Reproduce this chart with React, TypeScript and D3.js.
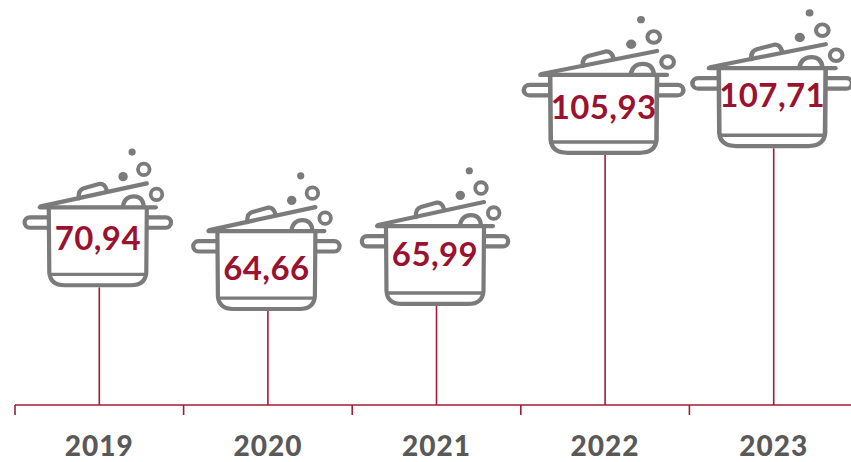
import React from "react";
import * as d3 from "d3";

const years = ["2019", "2020", "2021", "2022", "2023"];
const values = [70.94, 64.66, 65.99, 105.93, 107.71];
const valueLabels = ["70,94", "64,66", "65,99", "105,93", "107,71"];

const W = 851, H = 462;
const AXIS_Y = 405;
const GREY = "#7b7b7b";
const RED = "#a01c36";
const LABEL_TEXT = "#9b1230";
const WIDE_POT_SCALE = 1.09;
// how far each value label sits above the bottom of its pot
const LABEL_LIFT: Record<string, number> = { "2019": 37, "2020": 31, "2021": 40, "2022": 36, "2023": 41 };

const x = d3.scaleBand<string>().domain(years).range([15, 858]);
const y = d3.scaleLinear().domain([64.66, 107.71]).range([311.1, 148.2]);

function Pot({ wide }: { wide: boolean }) {
  // pot pictogram, origin at the bottom centre of the pot
  return (
    <g transform={`scale(${wide ? WIDE_POT_SCALE : 1},1)`} fill="none" stroke={GREY} strokeWidth={4.2} strokeLinecap="round" strokeLinejoin="round">
      <path d="M-49,-78 L-48.5,-15 Q-47.5,-2.1 -33,-2.1 L33,-2.1 Q47.5,-2.1 48.5,-15 L49,-78" />
      <path d="M-58,-80 L58,-80" />
      <path d="M-48,-13 L48,-13" strokeWidth={3.4} />
      <path d="M-57,-81 L49,-104" />
      <path d="M-19,-89 Q-20,-97 -14,-99 L2,-103.5 Q7,-104 9,-97" />
      <path d="M25,-81 Q27,-91 36,-91 Q45,-91 46,-81" />
      <path d="M-50,-70 L-68,-70 A5.2,5.2 0 0 0 -68,-59.6 L-50,-59.6" />
      <path d="M50,-70 L68,-70 A5.2,5.2 0 0 1 68,-59.6 L50,-59.6" />
      <circle cx={34.3} cy={-135.3} r={3.6} fill={GREY} stroke="none" />
      <circle cx={25.3} cy={-110.7} r={4.7} fill={GREY} stroke="none" />
      <circle cx={46} cy={-118} r={5.8} strokeWidth={3.8} />
      <circle cx={58.7} cy={-93} r={5.8} strokeWidth={3.8} />
    </g>
  );
}

export default function App() {
  const tickXs = years.map((d) => x(d)!).concat([x.range()[1]]);
  return (
    <svg width={W} height={H} style={{ position: "absolute", left: 0, top: 0, background: "#fff" }}>
      {years.map((yr, i) => {
        const cx = x(yr)! + x.bandwidth() / 2;
        const top = y(values[i]);
        return (
          <g key={yr}>
            <line x1={cx} x2={cx} y1={top} y2={AXIS_Y} stroke={RED} strokeWidth={1.6} />
            <g transform={`translate(${cx - 1.5},${top})`}>
              <Pot wide={values[i] > 100} />
              <text y={-LABEL_LIFT[yr]} textAnchor="middle" fontFamily="Lato" fontWeight={700} fontSize={33} letterSpacing={0.4} fill={LABEL_TEXT}>
                {valueLabels[i]}
              </text>
            </g>
            <text x={cx} y={456} textAnchor="middle" fontFamily="Lato" fontWeight={900} fontSize={28} letterSpacing={1} fill="#595959">
              {yr}
            </text>
          </g>
        );
      })}
      <line x1={15} x2={W} y1={AXIS_Y} y2={AXIS_Y} stroke={RED} strokeWidth={1.6} />
      {tickXs.map((t) => (
        <line key={t} x1={t} x2={t} y1={AXIS_Y} y2={AXIS_Y + 10} stroke={RED} strokeWidth={1.6} />
      ))}
    </svg>
  );
}
